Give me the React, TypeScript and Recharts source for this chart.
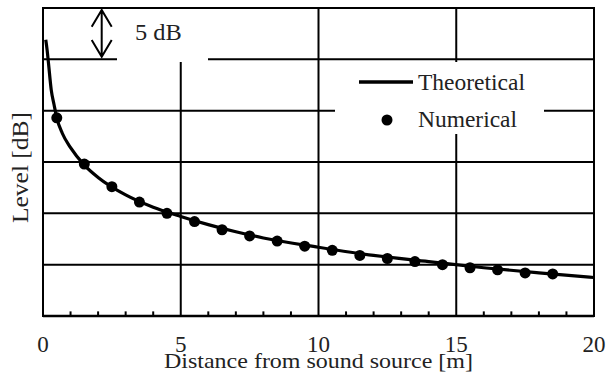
import React from 'react';
import { ComposedChart, Line, Scatter, XAxis, YAxis, ReferenceLine, ReferenceArea, Legend } from 'recharts';

// theoretical curve (distance m / level dB above the bottom edge)
const LINE_R = [0.1, 0.15, 0.2, 0.3, 0.4, 0.5, 0.7, 1, 1.5, 2, 3, 4, 5, 6, 7, 8, 10, 12, 14, 16, 18, 20];
const LINE_DB = [26.9, 25.9, 24.6, 22.0, 20.6, 19.3, 17.8, 16.4, 14.7, 13.5, 11.8, 10.6, 9.7, 8.9, 8.2, 7.6, 6.7, 5.9, 5.3, 4.7, 4.2, 3.75];

// numerical points
const DOT_R = [0.5, 1.5, 2.5, 3.5, 4.5, 5.5, 6.5, 7.5, 8.5, 9.5, 10.5, 11.5, 12.5, 13.5, 14.5, 15.5, 16.5, 17.5, 18.5];
const DOT_DB = [19.3, 14.8, 12.6, 11.1, 10.0, 9.2, 8.4, 7.8, 7.3, 6.8, 6.4, 5.9, 5.6, 5.3, 5.0, 4.7, 4.5, 4.2, 4.1];

const X_TICKS = [0, 5, 10, 15, 20];
const X_GRID = [5, 10, 15];
const X_MINOR = [1, 2, 3, 4, 6, 7, 8, 9, 11, 12, 13, 14, 16, 17, 18, 19];
const MINOR_LEN = 0.45; // dB, small inward tick
const Y_GRID = [5, 10, 15, 20, 25];

const SERIES_NAMES = ['Theoretical', 'Numerical'];
const X_TITLE = 'Distance from sound source [m]';
const Y_TITLE = 'Level  [dB]';
const SCALE_NOTE = '5 dB';

const FONT = '"Liberation Serif", "Times New Roman", serif';
const INK = '#222';

const lineData = LINE_R.map((r, i) => ({ r, v: LINE_DB[i] }));
const dotData = DOT_R.map((r, i) => ({ r, v: DOT_DB[i] }));

const XTick = (props: any) => {
  const { x, y, payload } = props;
  return (
    <text x={x} y={y + 36} textAnchor="middle" fontFamily={FONT} fontSize={23} fill={INK}>
      {payload.value}
    </text>
  );
};

const XTitle = (props: any) => {
  const vb = props.viewBox;
  return (
    <text
      x={vb.x + vb.width / 2}
      y={vb.y + 52}
      textAnchor="middle"
      fontFamily={FONT}
      fontSize={22}
      fill={INK}
      textLength={309}
      lengthAdjust="spacingAndGlyphs"
    >
      {X_TITLE}
    </text>
  );
};

const LegendBox = () => (
  <svg width={209} height={72} style={{ display: 'block' }}>
    <rect x={0} y={0} width={209} height={72} fill="#fff" />
    <line x1={24} y1={20} x2={78} y2={20} stroke="#000" strokeWidth={3.5} />
    <text x={83} y={28} fontFamily={FONT} fontSize={23} fill={INK} textLength={107} lengthAdjust="spacingAndGlyphs">
      {SERIES_NAMES[0]}
    </text>
    <circle cx={52} cy={58} r={5.5} fill="#000" />
    <text x={83} y={65} fontFamily={FONT} fontSize={23} fill={INK} textLength={99} lengthAdjust="spacingAndGlyphs">
      {SERIES_NAMES[1]}
    </text>
  </svg>
);

const Dot = (props: any) => <circle cx={props.cx} cy={props.cy} r={5.5} fill="#000" />;

export default function App() {
  return (
    <div style={{ position: 'absolute', left: 0, top: 0, width: 608, height: 383, background: '#fff' }}>
      <ComposedChart width={608} height={383} margin={{ top: 8, right: 14, bottom: 0, left: 43 }}>
        <XAxis
          dataKey="r"
          type="number"
          domain={[0, 20]}
          ticks={X_TICKS}
          interval={0}
          allowDataOverflow
          tickLine={false}
          tickSize={0}
          tickMargin={0}
          height={67}
          axisLine={{ stroke: '#000', strokeWidth: 2.5 }}
          tick={<XTick />}
          label={{ content: <XTitle /> }}
        />
        <YAxis dataKey="v" type="number" domain={[0, 30]} hide width={0} />
        <ReferenceArea x1={0} x2={20} y1={0} y2={30} fill="none" stroke="#000" strokeWidth={2} />
        {Y_GRID.map((v) => (
          <ReferenceLine key={'h' + v} y={v} stroke="#000" strokeWidth={2} />
        ))}
        {X_GRID.map((v) => (
          <ReferenceLine key={'v' + v} x={v} stroke="#000" strokeWidth={2} />
        ))}
        {X_MINOR.map((v) => (
          <ReferenceLine
            key={'m' + v}
            segment={[{ x: v, y: 0 }, { x: v, y: MINOR_LEN }]}
            stroke="#000"
            strokeWidth={2}
          />
        ))}
        <Legend
          layout="vertical"
          align="center"
          verticalAlign="middle"
          wrapperStyle={{ left: 335, top: 62, width: 209, height: 72 }}
          content={<LegendBox />}
        />
        <Line
          data={lineData}
          dataKey="v"
          name={SERIES_NAMES[0]}
          type="monotone"
          stroke="#000"
          strokeWidth={3.2}
          dot={false}
          activeDot={false}
          isAnimationActive={false}
        />
        <Scatter
          data={dotData}
          dataKey="v"
          name={SERIES_NAMES[1]}
          fill="#000"
          shape={<Dot />}
          isAnimationActive={false}
        />
      </ComposedChart>
      <svg width={608} height={383} style={{ position: 'absolute', left: 0, top: 0, pointerEvents: 'none' }}>
        <rect x={117} y={9} width={91} height={53} fill="#fff" />
        <path
          d="M101.7 10 L101.7 56.7 M91.7 26.7 L101.7 10 L111.7 26.7 M91.7 40 L101.7 56.7 L111.7 40"
          stroke="#000"
          strokeWidth={2}
          fill="none"
        />
        <text x={135} y={40} fontFamily={FONT} fontSize={23} fill={INK} textLength={46.7} lengthAdjust="spacingAndGlyphs">
          {SCALE_NOTE}
        </text>
        <text
          x={28}
          y={167.5}
          transform="rotate(-90 28 167.5)"
          textAnchor="middle"
          fontFamily={FONT}
          fontSize={24}
          fill={INK}
          textLength={111}
          lengthAdjust="spacingAndGlyphs"
        >
          {Y_TITLE}
        </text>
      </svg>
    </div>
  );
}
